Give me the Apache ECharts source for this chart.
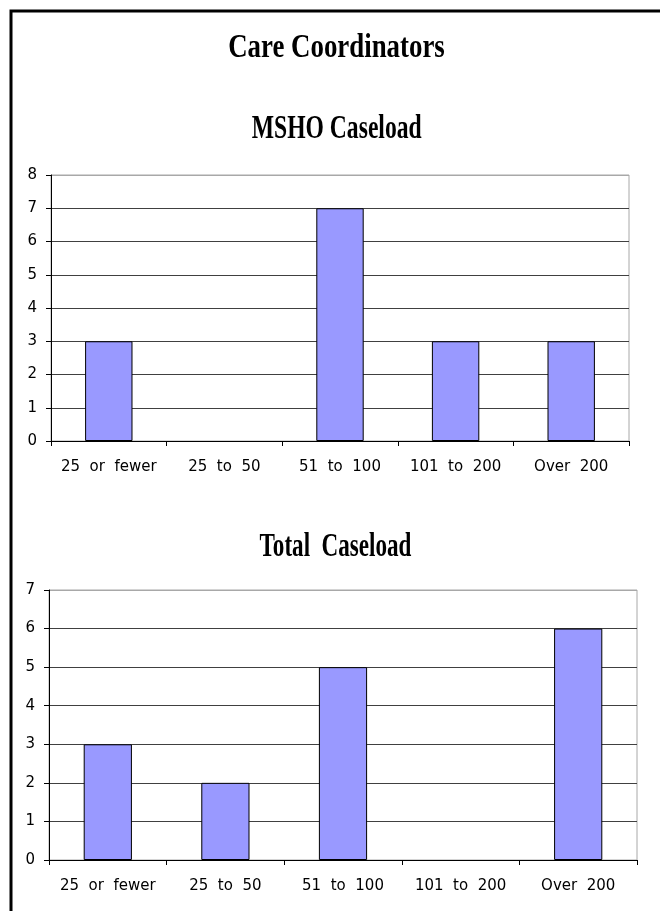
<!DOCTYPE html>
<html>
<head>
<meta charset="utf-8">
<title>Care Coordinators</title>
<script src="https://cdn.jsdelivr.net/npm/echarts@6/dist/echarts.min.js"></script>
<style>
  html, body { margin: 0; padding: 0; background: #ffffff; }
  #chart { width: 660px; height: 911px; }
</style>
</head>
<body>
<div id="chart"></div>
<script>
// Caseload size buckets shared by both panels
const categories = ['25  or  fewer', '25  to  50', '51  to  100', '101  to  200', 'Over  200'];

// Number of care coordinators per bucket
const mshoCaseload = [3, 0, 7, 3, 3];
const totalCaseload = [3, 2, 5, 0, 6];

// Value axis ranges
const mshoAxisMax = 8;
const totalAxisMax = 7;

const pageTitle = 'Care Coordinators';
const mshoTitle = 'MSHO Caseload';
const totalTitle = 'Total  Caseload';

const labelFont = 'DejaVu Sans';
const titleFont = 'Liberation Serif';

function splitColors(max) {
  const c = [];
  for (let i = 0; i <= max; i++) c.push(i === max ? '#a8a8a8' : '#404040');
  return c;
}

function valueAxis(gridIndex, max) {
  return {
    type: 'value', gridIndex: gridIndex, min: 0, max: max, interval: 1,
    axisLine: { show: true, lineStyle: { color: '#000', width: 1 } },
    axisTick: { show: true, length: 5, lineStyle: { color: '#000' } },
    axisLabel: { color: '#000', fontFamily: labelFont, fontSize: 15, margin: 14 },
    splitLine: { show: true, lineStyle: { color: splitColors(max), width: 1 } }
  };
}

function categoryAxis(gridIndex) {
  return {
    type: 'category', gridIndex: gridIndex, data: categories,
    axisLine: { show: true, lineStyle: { color: '#000', width: 1 } },
    axisTick: { show: true, length: 5, lineStyle: { color: '#000' } },
    axisLabel: { color: '#000', fontFamily: labelFont, fontSize: 15, margin: 19, interval: 0 },
    splitLine: { show: false }
  };
}

// empty buckets get no outline so nothing is drawn on the baseline
function barData(values) {
  return values.map(v => v === 0 ? { value: v, itemStyle: { borderWidth: 0 } } : v);
}

function barSeries(index, values) {
  return {
    type: 'bar', xAxisIndex: index, yAxisIndex: index, data: barData(values),
    barWidth: '41%',
    itemStyle: { color: '#9999ff', borderColor: '#000000', borderWidth: 1 },
    animation: false
  };
}

function titleText(text, x, y, size, sx) {
  return {
    type: 'text', x: x, y: y, scaleX: sx, silent: true,
    style: {
      text: text, fill: '#000', align: 'center', verticalAlign: 'middle',
      fontFamily: titleFont, fontWeight: 'bold', fontSize: size
    }
  };
}

const chart = echarts.init(document.getElementById('chart'), null, { renderer: 'canvas' });

chart.setOption({
  animation: false,
  backgroundColor: '#ffffff',
  grid: [
    { left: 51, right: 31, top: 175, height: 266, show: true, borderColor: '#a8a8a8', borderWidth: 1, backgroundColor: 'transparent' },
    { left: 49, right: 23, top: 590, height: 270, show: true, borderColor: '#a8a8a8', borderWidth: 1, backgroundColor: 'transparent' }
  ],
  xAxis: [categoryAxis(0), categoryAxis(1)],
  yAxis: [valueAxis(0, mshoAxisMax), valueAxis(1, totalAxisMax)],
  series: [barSeries(0, mshoCaseload), barSeries(1, totalCaseload)],
  graphic: [
    // page frame
    { type: 'rect', silent: true, shape: { x: 11, y: 11, width: 800, height: 1100 },
      style: { fill: 'none', stroke: '#000', lineWidth: 3 } },
    titleText(pageTitle, 336.5, 48, 34, 0.79),
    titleText(mshoTitle, 336.7, 129, 33, 0.716),
    titleText(totalTitle, 335.5, 547, 33, 0.70)
  ]
});
</script>
</body>
</html>
